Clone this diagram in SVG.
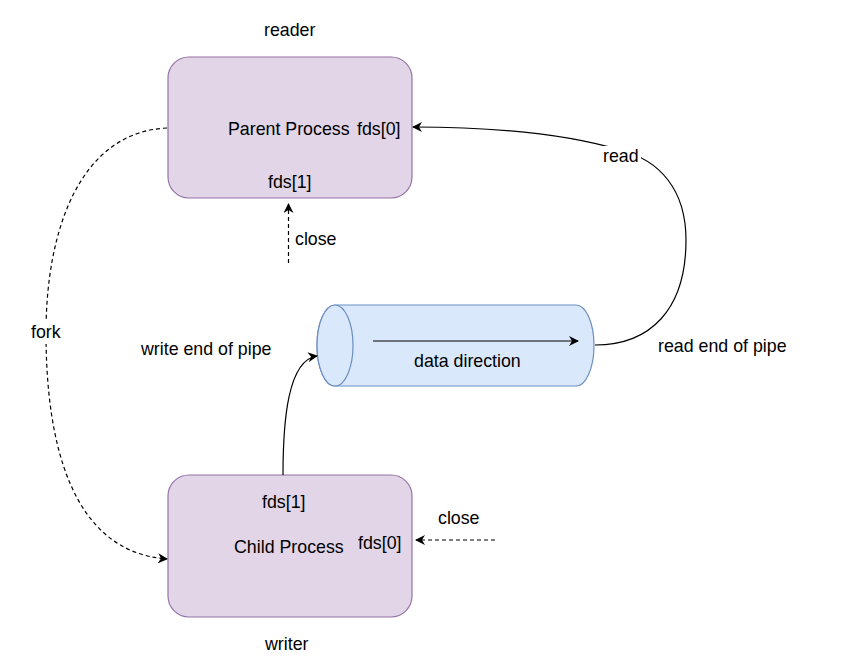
<svg xmlns="http://www.w3.org/2000/svg" width="862" height="672" viewBox="0 0 862 672">
<defs>
<style>
text{font-family:"Liberation Sans",Arial,sans-serif;font-size:17.8px;fill:#000}
.box{fill:#e1d5e7;stroke:#9673a6;stroke-width:1.2}
.cyl{fill:#dae8fc;stroke:#6c8ebf;stroke-width:1.2}
.edge{fill:none;stroke:#000;stroke-width:1.2}
.dash{stroke-dasharray:4 3}
</style>
<marker id="arr" viewBox="0 0 10 10" refX="9" refY="5" markerWidth="10" markerHeight="10" markerUnits="userSpaceOnUse" orient="auto">
<path d="M0,0 L10,5 L0,10 L3,5 Z" fill="#000"/>
</marker>
</defs>
<rect width="862" height="672" fill="#fff"/>
<g id="parent">
<rect class="box" x="168" y="57" width="244" height="141" rx="21"/>
<text x="228" y="135">Parent Process</text>
<text x="357" y="135">fds[0]</text>
<text x="268" y="188">fds[1]</text>
</g>
<g id="child">
<rect class="box" x="168" y="475" width="244" height="142" rx="21"/>
<text x="262" y="508">fds[1]</text>
<text x="234" y="553">Child Process</text>
<text x="358" y="549">fds[0]</text>
</g>
<g id="pipe">
<path class="cyl" d="M335,305 L576,305 A18,40.5 0 0 1 576,386 L335,386 A18,40.5 0 0 1 335,305 Z"/>
<ellipse class="cyl" cx="335" cy="345.5" rx="18" ry="40.5"/>
<text x="414" y="367">data direction</text>
</g>
<g id="labels">
<text x="264" y="36">reader</text>
<text x="265" y="650">writer</text>
<text x="141" y="355">write end of pipe</text>
<text x="658" y="352">read end of pipe</text>
</g>
<g id="connectors">
<path class="edge" d="M373,341 L578,341" marker-end="url(#arr)"/>
<path class="edge dash" d="M288.5,263 L288.5,204" marker-end="url(#arr)"/>
<text x="295" y="245">close</text>
<path class="edge dash" d="M495,540 L416,540" marker-end="url(#arr)"/>
<text x="438" y="524">close</text>
<path class="edge" d="M283,475 C283,420 288,360 317,356" marker-end="url(#arr)"/>
<path class="edge dash" d="M167,128 C80,132 46,230 46,333 C46,440 70,552 167,559" marker-end="url(#arr)"/>
<rect x="28" y="320" width="36" height="24" fill="#fff"/>
<text x="31" y="338">fork</text>
<path class="edge" d="M595,345 C650,345 686,310 686,240 C686,190 660,160 620,150 C560,132 480,127 413,127" marker-end="url(#arr)"/>
<rect x="601" y="146" width="40" height="20" fill="#fff"/>
<text x="603" y="162">read</text>
</g>
</svg>
